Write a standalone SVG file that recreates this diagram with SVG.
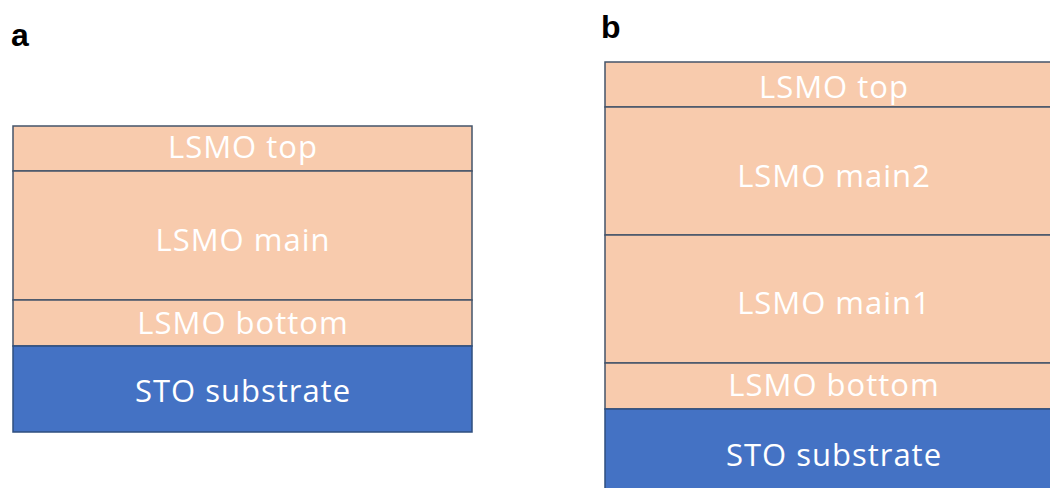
<svg xmlns="http://www.w3.org/2000/svg" width="1050" height="488" viewBox="0 0 1050 488">
<style>
.l{fill:#F8CBAD;stroke:#44546A;stroke-width:1.5}
.s{fill:#4472C4;stroke:#2F4F7F;stroke-width:1.5}
.t{font-family:"Open Sans","Liberation Sans",sans-serif;font-size:31px;letter-spacing:1px;fill:#FFFFFF;text-anchor:middle}
.p{font-family:"Liberation Sans",Arial,sans-serif;font-size:32px;font-weight:bold;fill:#000000}
</style>
<rect width="1050" height="488" fill="#FFFFFF"/>
<text class="p" x="11" y="46">a</text>
<text class="p" x="601" y="38">b</text>
<g id="a-top"><rect class="l" x="13" y="126" width="459" height="45"/><text class="t" x="243" y="158">LSMO top</text></g>
<g id="a-main"><rect class="l" x="13" y="171" width="459" height="129"/><text class="t" x="243" y="251">LSMO main</text></g>
<g id="a-bottom"><rect class="l" x="13" y="300" width="459" height="46"/><text class="t" x="243" y="334">LSMO bottom</text></g>
<g id="a-sto"><rect class="s" x="13" y="346" width="459" height="86"/><text class="t" x="243" y="402">STO substrate</text></g>
<g id="b-top"><rect class="l" x="605" y="62" width="460" height="45"/><text class="t" x="834" y="98">LSMO top</text></g>
<g id="b-main2"><rect class="l" x="605" y="107" width="460" height="128"/><text class="t" x="834" y="187">LSMO main2</text></g>
<g id="b-main1"><rect class="l" x="605" y="235" width="460" height="128"/><text class="t" x="834" y="314">LSMO main1</text></g>
<g id="b-bottom"><rect class="l" x="605" y="363" width="460" height="46"/><text class="t" x="834" y="396">LSMO bottom</text></g>
<g id="b-sto"><rect class="s" x="605" y="409" width="460" height="90"/><text class="t" x="834" y="466">STO substrate</text></g>
<g id="connectors"/>
</svg>
